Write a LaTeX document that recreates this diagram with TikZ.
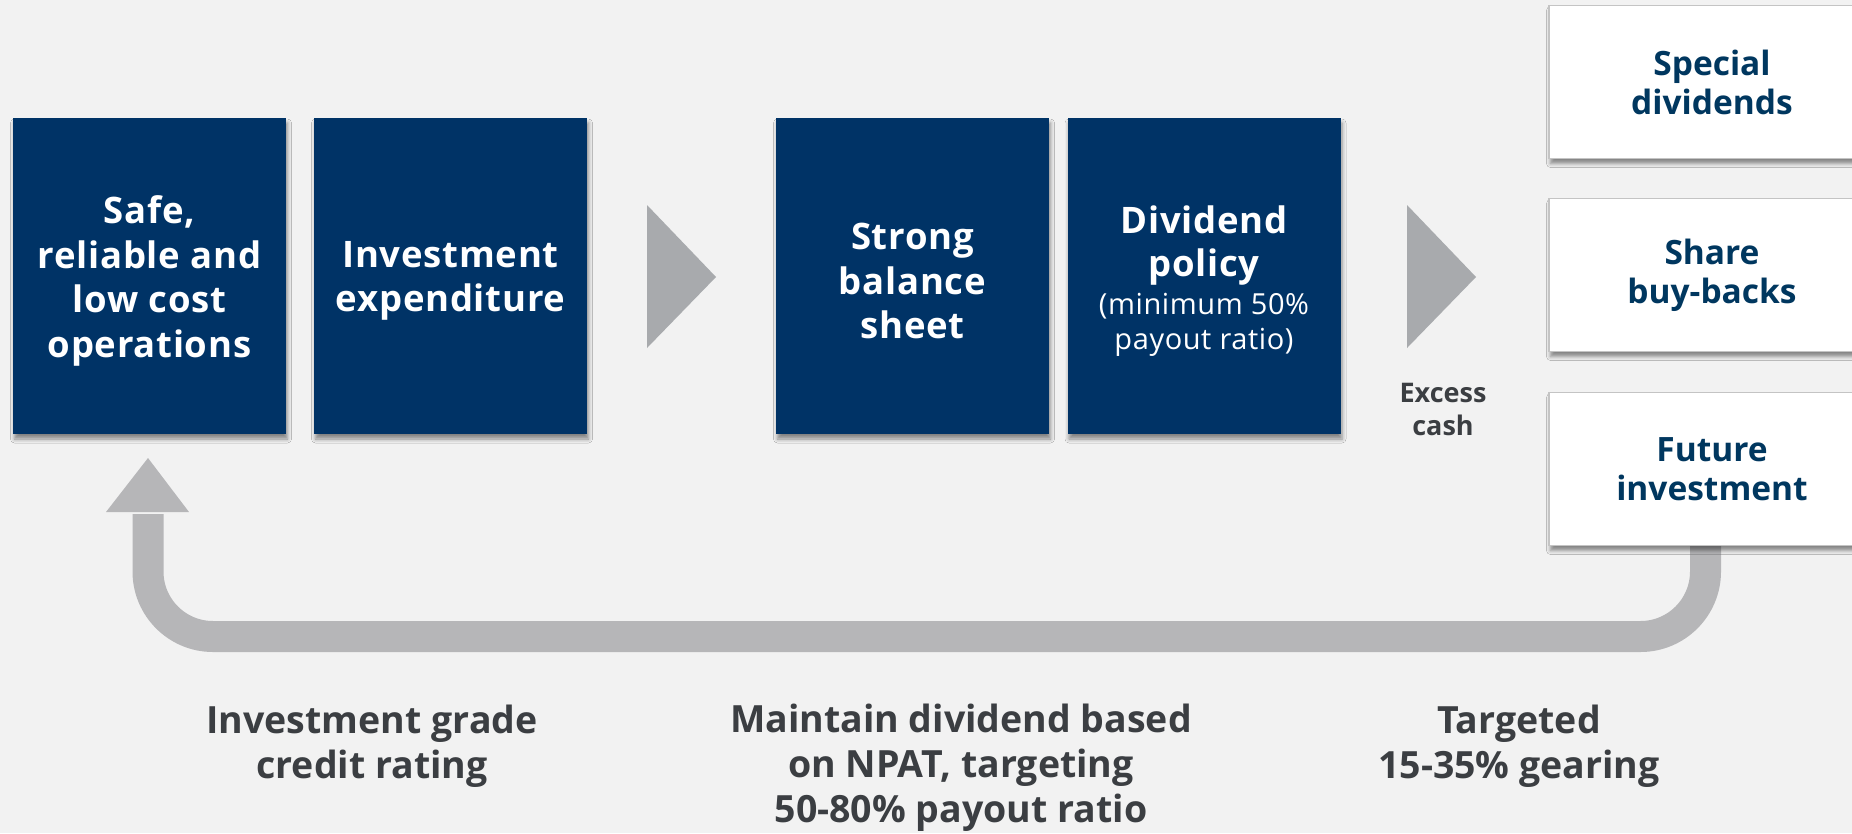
\documentclass[tikz,border=0pt]{standalone}
\usepackage{fontspec}
\setmainfont{Open Sans}
\usetikzlibrary{shadows.blur,backgrounds}
\definecolor{bg}{HTML}{F2F2F2}
\definecolor{navy}{HTML}{003366}
\definecolor{navytext}{HTML}{00375F}
\definecolor{chev}{HTML}{A8AAAD}
\definecolor{loopgray}{HTML}{B6B6B8}
\definecolor{txtgray}{HTML}{3B3E42}
\definecolor{wborder}{HTML}{C4C4C4}
\begin{document}
\begin{tikzpicture}[x=1pt,y=-1pt,
  bluebox/.style={fill=navy, minimum width=273pt, minimum height=316pt, inner sep=0pt,
    blur shadow={shadow xshift=1.5pt, shadow yshift=-5pt, shadow blur radius=4pt, shadow opacity=45}},
  bluetext/.style={text=white, inner sep=0pt, align=center,
    font=\bfseries\fontsize{36.5}{44.5}\selectfont\addfontfeatures{LetterSpace=2}},
  whitebox/.style={fill=white, draw=wborder, line width=1.5pt, minimum width=326pt,
    minimum height=153pt, inner sep=0pt, align=center, text=navytext,
    font=\bfseries\fontsize{33.5}{39}\selectfont,
    blur shadow={shadow xshift=1.5pt, shadow yshift=-5pt, shadow blur radius=4pt, shadow opacity=45}},
  chevron/.style={fill=chev},
  looparrow/.style={draw=loopgray, line width=31pt, rounded corners=65pt},
  bottomtext/.style={text=txtgray, align=center, font=\bfseries\fontsize{37.5}{45}\selectfont},
  smalltext/.style={text=txtgray, align=center, font=\bfseries\fontsize{27}{33}\selectfont},
]
\useasboundingbox (0,0) rectangle (1852,833);
\clip (0,0) rectangle (1852,833);

% blue boxes
\node[bluebox] (ops) at (149.5,276) {};
\node[bluebox] (inv) at (450.5,276) {};
\node[bluebox] (bal) at (912.5,276) {};
\node[bluebox] (div) at (1204,276) {};
\node[bluetext] (opsT) at ([yshift=-5pt]ops.center) {Safe,\\reliable and\\low cost\\operations};
\node[bluetext] (invT) at ([yshift=-5pt]inv.center) {Investment\\expenditure};
\node[bluetext] (balT) at ([yshift=-5pt]bal.center) {Strong\\balance\\sheet};
\node[bluetext] (divT) at ([yshift=-5pt]div.center) {Dividend\\[-2pt]policy\\[-6pt]{\mdseries\fontsize{29}{34}\selectfont (minimum 50\%}\\[-10pt]{\mdseries\fontsize{29}{34}\selectfont payout ratio)}};

% chevrons
\fill[chevron] (647,205) -- (716,277) -- (647,348) -- cycle;
\fill[chevron] (1407,205) -- (1476,277) -- (1407,348) -- cycle;

\node[smalltext] (excess) at (1443,409) {Excess\\cash};

% white boxes
\node[whitebox] (sd) at (1712,82) {Special\\dividends};
\node[whitebox] (sb) at (1712,275) {Share\\buy-backs};
\node[whitebox] (fi) at (1712,469) {Future\\investment};

% loop arrow
\coordinate (lstart) at ([xshift=-6.5pt,yshift=8pt]fi.south);
\coordinate (abase) at (148,514);
\coordinate (atip) at (148,458);
\begin{scope}[on background layer]
  \fill[bg] (0,0) rectangle (1852,833);
  \draw[looparrow] (lstart) |- (148,636.5) -- (abase);
  \fill[loopgray] ([xshift=-42pt,yshift=2pt]abase) -- ([xshift=41pt,yshift=2pt]abase) -- (atip) -- cycle;
\end{scope}

% bottom texts
\node[bottomtext] (igr) at (372,746) {Investment grade\\credit rating};
\node[bottomtext] (mdb) at (961,768) {Maintain dividend based\\on NPAT, targeting\\50-80\% payout ratio};
\node[bottomtext] (tg) at (1519,746) {Targeted\\15-35\% gearing};
\end{tikzpicture}
\end{document}
